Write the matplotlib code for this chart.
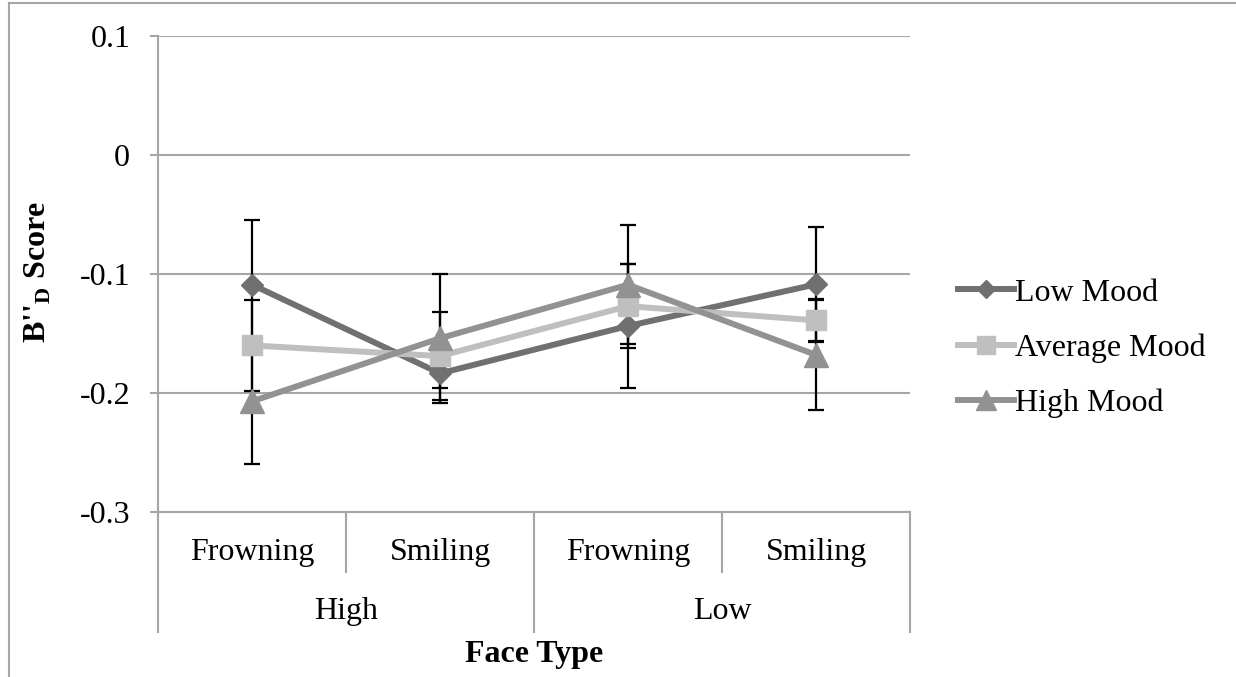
import matplotlib
matplotlib.use("Agg")
import matplotlib.pyplot as plt
from matplotlib.lines import Line2D

plt.rcParams['font.family'] = ['Liberation Serif', 'DejaVu Serif']
plt.rcParams['mathtext.fontset'] = 'custom'
plt.rcParams['mathtext.rm'] = 'Liberation Serif'
plt.rcParams['mathtext.bf'] = 'Liberation Serif:bold'

# data
face = ["Frowning", "Smiling", "Frowning", "Smiling"]
group = ["High", "Low"]
series = ["Low Mood", "Average Mood", "High Mood"]
low_mood = [-0.109, -0.1835, -0.1437, -0.1087]
avg_mood = [-0.160, -0.169, -0.127, -0.139]
high_mood = [-0.207, -0.154, -0.109, -0.168]
low_err = [0.054, 0.012, 0.052, 0.048]
avg_err = [0.038, 0.037, 0.035, 0.018]
high_err = [0.053, 0.054, 0.050, 0.046]

colors = ["#707070", "#bfbfbf", "#929292"]
markers = ["D", "s", "^"]
msizes = [11, 15, 17]
grid_c = "#a6a6a6"
fs = 23

fig = plt.figure(figsize=(12.36, 6.77), dpi=100)
ax = fig.add_axes([158/1236, 1-512/677, 752/1236, 476/677])

x = range(len(face))
for vals, err, c, m, ms, name in zip([low_mood, avg_mood, high_mood],
                                     [low_err, avg_err, high_err],
                                     colors, markers, msizes, series):
    ax.errorbar(x, vals, yerr=err, fmt='none', ecolor='black', elinewidth=1.6,
                capsize=6, capthick=1.6, zorder=2)
    ax.plot(x, vals, color=c, lw=4.3, marker=m, ms=ms, label=name, zorder=3)

ax.set_xlim(-0.5, 3.5)
ax.set_ylim(-0.3, 0.1)
ax.set_yticks([-0.3, -0.2, -0.1, 0, 0.1])
ax.set_yticklabels(["-0.3", "-0.2", "-0.1", "0", "0.1"])
ax.grid(axis='y', color=grid_c, lw=1.5)
ax.set_axisbelow(True)
ax.set_xticks([])
for s in ['top', 'right']:
    ax.spines[s].set_visible(False)
for s in ['left', 'bottom']:
    ax.spines[s].set_color(grid_c)
    ax.spines[s].set_linewidth(1.5)
ax.tick_params(axis='y', length=6, width=1.5, color=grid_c, labelsize=fs, pad=14)

# category axis with two levels
tr = ax.get_xaxis_transform()
for xs, y0 in [(-0.5, -0.252), (0.5, -0.126), (1.5, -0.252), (2.5, -0.126), (3.5, -0.252)]:
    ax.plot([xs, xs], [0, y0], color=grid_c, lw=1.5, transform=tr, clip_on=False)
for i, f in enumerate(face):
    ax.text(i, -0.086, f, transform=tr, ha='center', va='center', fontsize=fs)
for i, g in enumerate(group):
    ax.text(0.5 + 2*i, -0.21, g, transform=tr, ha='center', va='center', fontsize=fs)
ax.text(1.5, -0.30, "Face Type", transform=tr, ha='center', va='center',
        fontsize=fs, fontweight='bold')

fig.text(38/1236, 1-272/677, r"B''$_\mathbf{D}$ Score", rotation=90, ha='center',
         va='center', fontsize=fs, fontweight='bold')

fig.legend(loc='center left', bbox_to_anchor=(942/1236, 1-348/677), frameon=False,
           fontsize=fs, handlelength=1.75, handletextpad=0.02, labelspacing=0.8,
           borderpad=0, markerscale=0.85)

# outer chart frame (left and top edges visible)
fig.add_artist(Line2D([9/1236, 9/1236], [0, 1-3/677], color=grid_c, lw=1.5))
fig.add_artist(Line2D([9/1236, 1], [1-3/677, 1-3/677], color=grid_c, lw=1.5))

fig.savefig("out.png", dpi=100)
